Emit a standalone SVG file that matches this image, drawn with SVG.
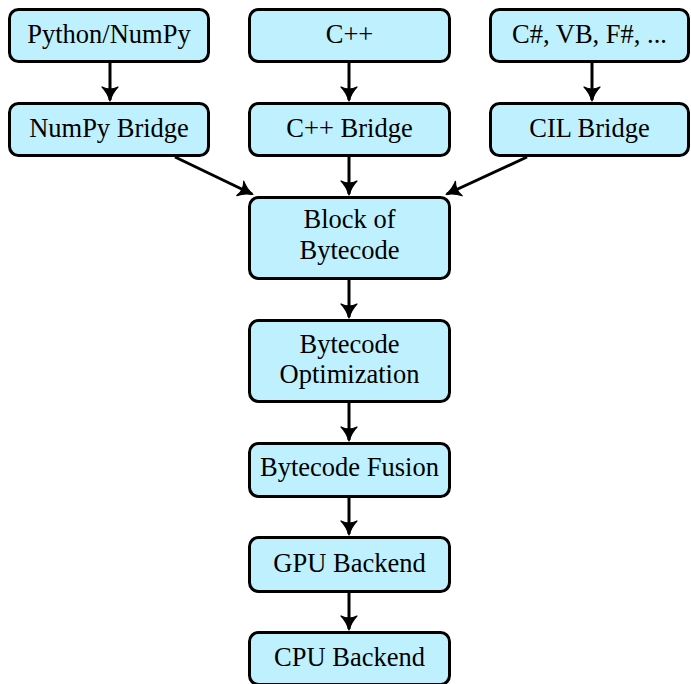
<svg xmlns="http://www.w3.org/2000/svg" width="691" height="684" viewBox="0 0 691 684">
<defs>
<style>
.box{fill:#bff0fe;stroke:#000;stroke-width:3}
.t{font-family:"Liberation Serif","Times New Roman",serif;font-size:26.5px;fill:#000;text-anchor:middle}
.c{stroke:#000;stroke-width:3;fill:none}
</style>
<marker id="ah" markerUnits="userSpaceOnUse" markerWidth="30" markerHeight="30" viewBox="-15 -15 30 30" refX="0" refY="0" orient="auto">
<path d="M1,0 C-4,-1.5 -9,-4 -13,-8 C-10.5,-3 -10.5,3 -13,8 C-9,4 -4,1.5 1,0 Z" fill="#000" stroke="#000" stroke-width="1.2" stroke-linejoin="round"/>
</marker>
</defs>
<rect width="691" height="684" fill="#fff"/>
<g id="connectors">
<line class="c" x1="110" y1="62" x2="110" y2="100" marker-end="url(#ah)"/>
<line class="c" x1="349" y1="62" x2="349" y2="100" marker-end="url(#ah)"/>
<line class="c" x1="592" y1="62" x2="592" y2="100" marker-end="url(#ah)"/>
<line class="c" x1="175" y1="157" x2="252" y2="194" marker-end="url(#ah)"/>
<line class="c" x1="349" y1="157" x2="349" y2="194" marker-end="url(#ah)"/>
<line class="c" x1="527" y1="157" x2="447" y2="194" marker-end="url(#ah)"/>
<line class="c" x1="349" y1="280" x2="349" y2="317" marker-end="url(#ah)"/>
<line class="c" x1="349" y1="403" x2="349" y2="440" marker-end="url(#ah)"/>
<line class="c" x1="349" y1="498" x2="349" y2="534" marker-end="url(#ah)"/>
<line class="c" x1="349" y1="593" x2="349" y2="629" marker-end="url(#ah)"/>
</g>
<g id="python">
<rect class="box" x="9.5" y="9.5" width="199" height="52" rx="9"/>
<text class="t" x="109" y="43">Python/NumPy</text>
</g>
<g id="cpp">
<rect class="box" x="249.5" y="9.5" width="200" height="52" rx="9"/>
<text class="t" x="349.5" y="43">C++</text>
</g>
<g id="csharp">
<rect class="box" x="490.5" y="9.5" width="198" height="52" rx="9"/>
<text class="t" x="589.5" y="43">C#, VB, F#, ...</text>
</g>
<g id="numpybridge">
<rect class="box" x="9.5" y="103.5" width="199" height="52" rx="9"/>
<text class="t" x="109" y="137">NumPy Bridge</text>
</g>
<g id="cppbridge">
<rect class="box" x="249.5" y="103.5" width="200" height="52" rx="9"/>
<text class="t" x="349.5" y="137">C++ Bridge</text>
</g>
<g id="cilbridge">
<rect class="box" x="490.5" y="103.5" width="198" height="52" rx="9"/>
<text class="t" x="589.5" y="137">CIL Bridge</text>
</g>
<g id="block">
<rect class="box" x="249.5" y="197.5" width="200" height="81" rx="9"/>
<text class="t" x="349.5" y="228">Block of</text>
<text class="t" x="349.5" y="259">Bytecode</text>
</g>
<g id="optimization">
<rect class="box" x="249.5" y="320.5" width="200" height="81" rx="9"/>
<text class="t" x="349.5" y="353">Bytecode</text>
<text class="t" x="349.5" y="383">Optimization</text>
</g>
<g id="fusion">
<rect class="box" x="249.5" y="443.5" width="200" height="53" rx="9"/>
<text class="t" x="349.5" y="476">Bytecode Fusion</text>
</g>
<g id="gpu">
<rect class="box" x="249.5" y="537.5" width="200" height="54" rx="9"/>
<text class="t" x="349.5" y="572">GPU Backend</text>
</g>
<g id="cpu">
<rect class="box" x="249.5" y="632.5" width="200" height="52" rx="9"/>
<text class="t" x="349.5" y="666">CPU Backend</text>
</g>
</svg>
